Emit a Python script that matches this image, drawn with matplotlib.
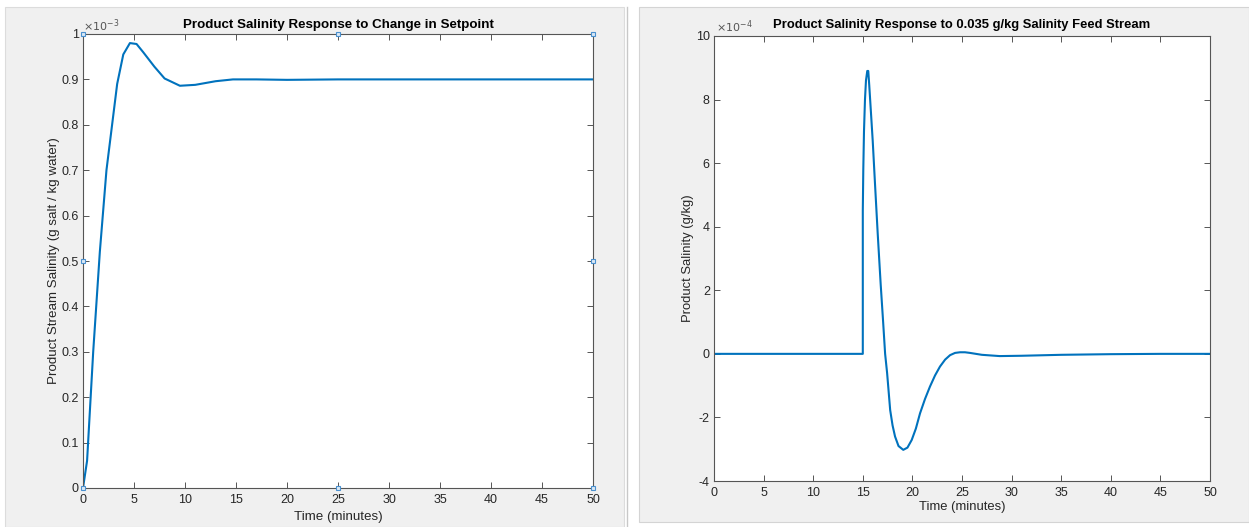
import matplotlib
matplotlib.use("Agg")
import matplotlib.pyplot as plt
from matplotlib.patches import Rectangle
from matplotlib.lines import Line2D

plt.rcParams['font.family'] = ['Liberation Sans', 'DejaVu Sans']
plt.rcParams['axes.unicode_minus'] = False

# left chart: setpoint step response (values in units of 1e-3 g/kg)
t_set = [0, 0.4, 1.0, 1.65, 2.3, 3.35, 3.95, 4.6, 5.25, 5.9, 7.0, 8.0, 9.5,
         11.0, 13.0, 14.7, 17.0, 20.0, 25.0, 30.0, 50.0]
s_set = [0, 0.06, 0.30, 0.52, 0.70, 0.89, 0.955, 0.98, 0.978, 0.96, 0.928,
         0.902, 0.886, 0.888, 0.896, 0.900, 0.900, 0.899, 0.900, 0.900, 0.900]

# right chart: feed disturbance response (values in units of 1e-4 g/kg)
t_feed = [0, 15.0, 15.0, 15.05, 15.12, 15.22, 15.32, 15.45, 15.55, 15.65, 15.8,
          16.0, 16.23, 16.5, 16.8, 17.05, 17.25, 17.45, 17.76, 18.0, 18.25, 18.6,
          19.08, 19.5, 19.93, 20.35, 20.77, 21.27, 21.77, 22.28, 22.78, 23.3,
          23.8, 24.3, 24.8, 25.3, 25.8, 27.0, 28.8, 31.0, 35.0, 40.0, 45.0, 50.0]
s_feed = [0, 0, 4.5, 5.8, 7.0, 8.0, 8.6, 8.9, 8.9, 8.45, 7.7,
          6.7, 5.35, 3.8, 2.2, 1.0, 0.0, -0.6, -1.77, -2.25, -2.6, -2.9,
          -3.02, -2.95, -2.71, -2.35, -1.87, -1.42, -1.03, -0.68, -0.4, -0.18,
          -0.04, 0.03, 0.05, 0.05, 0.03, -0.03, -0.07, -0.06, -0.03, -0.01, 0.0, 0.0]

x_ticks = list(range(0, 51, 5))
y_ticks_left = [0, 0.1, 0.2, 0.3, 0.4, 0.5, 0.6, 0.7, 0.8, 0.9, 1]
y_tick_labels_left = ['0', '0.1', '0.2', '0.3', '0.4', '0.5', '0.6', '0.7', '0.8', '0.9', '1']
y_ticks_right = [-4, -2, 0, 2, 4, 6, 8, 10]

# selection handles shown on left axes (plot edit mode)
handle_x = [0, 25, 50, 0, 50, 0, 25, 50]
handle_y = [0, 0, 0, 0.5, 0.5, 1, 1, 1]

W, H = 1249, 527
fig = plt.figure(figsize=(W / 100, H / 100), dpi=100)
fig.patch.set_facecolor('white')

def px_rect(x0, y0, x1, y1, **kw):
    r = Rectangle((x0 / W, 1 - y1 / H), (x1 - x0) / W, (y1 - y0) / H,
                  transform=fig.transFigure, zorder=-10, **kw)
    fig.add_artist(r)

# gray figure panels
px_rect(5, 7, 624, 527, facecolor='#f0f0f0', edgecolor='#dcdcdc', lw=0.8)
px_rect(639, 7, 1249, 522, facecolor='#f0f0f0', edgecolor='#d4d4d4', lw=0.8)
fig.add_artist(Line2D([627 / W, 627 / W], [0, 1 - 7 / H], transform=fig.transFigure,
                      color='#c8c8c8', lw=1.0, zorder=-10))

ax_color = '#262626'
line_color = '#0072BD'

def style(ax):
    ax.set_facecolor('white')
    for sp in ax.spines.values():
        sp.set_color('#555555')
        sp.set_linewidth(0.8)
    ax.tick_params(direction='in', length=4, width=0.7, colors='#555555',
                   labelcolor=ax_color, labelsize=9, top=True, right=True, pad=3)
    ax.tick_params(axis='x', pad=4)
    ax.set_xticks(x_ticks)
    ax.set_xlim(0, 50)

ax1 = fig.add_axes([83 / W, 1 - 488 / H, 510 / W, 454 / H])
style(ax1)
ax1.plot(t_set, s_set, color=line_color, lw=1.5)
ax1.set_ylim(0, 1)
ax1.set_yticks(y_ticks_left)
ax1.set_yticklabels(y_tick_labels_left)
ax1.plot(handle_x, handle_y, ls='none', marker='s', ms=3.5, mfc='#dbe9f6',
         mec='#4a90cf', mew=0.8, clip_on=False, zorder=5)
ax1.set_title('Product Salinity Response to Change in Setpoint', fontsize=9.6,
              fontweight='bold', color='black', pad=4)
ax1.set_xlabel('Time (minutes)', fontsize=9.6, color=ax_color, labelpad=4)
ax1.set_ylabel('Product Stream Salinity (g salt / kg water)', fontsize=9.6,
               color=ax_color, labelpad=1)
ax1.text(0.0, 1.0, r'$\times10^{-3}$', transform=ax1.transAxes, fontsize=8,
         color='#555555', ha='left', va='bottom')

ax2 = fig.add_axes([714 / W, 1 - 481 / H, 496 / W, 445 / H])
style(ax2)
ax2.plot(t_feed, s_feed, color=line_color, lw=1.5)
ax2.set_ylim(-4, 10)
ax2.set_yticks(y_ticks_right)
ax2.set_title('Product Salinity Response to 0.035 g/kg Salinity Feed Stream',
              fontsize=9.4, fontweight='bold', color='black', pad=6)
ax2.set_xlabel('Time (minutes)', fontsize=9.4, color=ax_color, labelpad=2)
ax2.set_ylabel('Product Salinity (g/kg)', fontsize=9.4, color=ax_color, labelpad=1)
ax2.text(0.005, 1.003, r'$\times10^{-4}$', transform=ax2.transAxes, fontsize=8,
         color='#555555', ha='left', va='bottom')

fig.savefig('out.png', dpi=100, facecolor=fig.get_facecolor())
